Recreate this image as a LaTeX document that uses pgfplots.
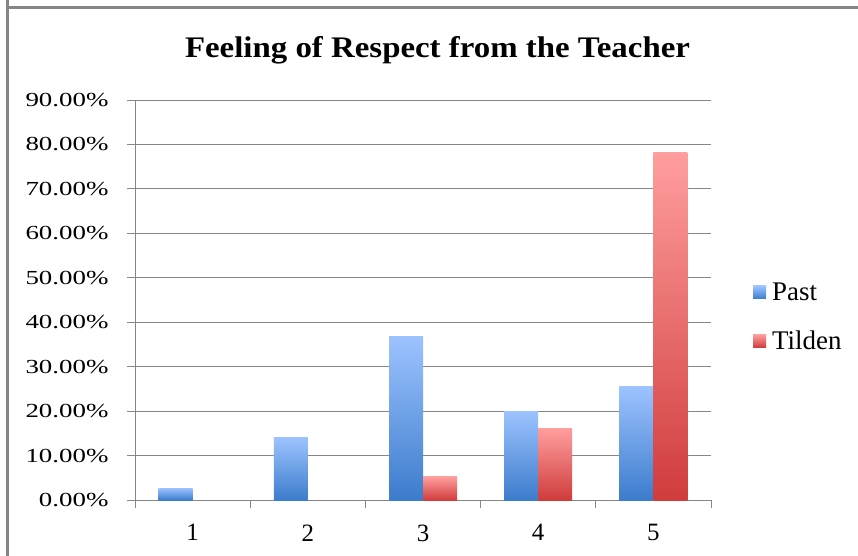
\documentclass[border=0pt]{standalone}
\usepackage{pgfplots}
\pgfplotsset{compat=1.18}
\usepackage{fontspec}
\setmainfont{Liberation Serif}
\definecolor{gridgray}{RGB}{134,134,134}
\definecolor{pasttop}{RGB}{157,195,255}
\definecolor{pastbot}{RGB}{60,124,204}
\definecolor{tildtop}{RGB}{255,158,158}
\definecolor{tildbot}{RGB}{208,60,60}
\pgfplotsset{
  pastbar/.style={ybar, bar width=34bp, bar shift=-17bp, draw=none, top color=pasttop, bottom color=pastbot},
  tildbar/.style={ybar, bar width=34bp, bar shift=17bp, draw=none, top color=tildtop, bottom color=tildbot},
}
\begin{document}
\begin{tikzpicture}
\path[use as bounding box] (-135bp,-56bp) rectangle (723bp,500bp);
\draw[gridgray, line width=3bp] (-127bp,500bp) -- (-127bp,-56bp);
\draw[gridgray, line width=3bp] (-128.5bp,492bp) -- (723bp,492bp);
\begin{axis}[
  scale only axis, width=576bp, height=400bp,
  xmin=0.5, xmax=5.5, ymin=0, ymax=90,
  axis x line*=bottom, axis y line*=left,
  axis line style={draw=gridgray, line width=0.9bp},
  ytick={0,10,...,90},
  ymajorgrids, grid style={draw=gridgray, line width=0.9bp},
  xtick={1,...,5}, minor xtick={0.5,1.5,...,5.5},
  tick align=outside, major tick length=8bp, minor tick length=8bp,
  tick style={draw=gridgray, line width=0.9bp},
  major x tick style={draw=none},
  yticklabel={\scalebox{1.35}[1]{\pgfmathprintnumber[fixed,fixed zerofill,precision=2,assume math mode=true]{\tick}\%}},
  xticklabel={\pgfmathprintnumber[assume math mode=true]{\tick}},
  yticklabel style={font=\fontsize{20}{24}\selectfont, xshift=-15bp},
  xticklabel style={font=\fontsize{25}{28}\selectfont, yshift=-13bp},
  legend style={at={(1.0729,0.4575)}, anchor=west, draw=none, fill=none,
    font=\fontsize{27}{30}\selectfont, row sep=25bp, inner sep=0pt},
  legend cell align=left,
  legend image code/.code={\draw[#1, draw=none] (0bp,-6.5bp) rectangle (13bp,6.5bp); \path (17bp,0bp);},
]
\addlegendimage{pastbar}\addlegendentry{Past}
\addlegendimage{tildbar}\addlegendentry{Tilden}
\addplot[pastbar, forget plot] coordinates {(1,2.7)};
\addplot[pastbar, forget plot] coordinates {(2,14.1)};
\addplot[pastbar, forget plot] coordinates {(3,36.9)};
\addplot[pastbar, forget plot] coordinates {(4,20.0)};
\addplot[pastbar, forget plot] coordinates {(5,25.5)};
\addplot[tildbar, forget plot] coordinates {(3,5.2)};
\addplot[tildbar, forget plot] coordinates {(4,16.1)};
\addplot[tildbar, forget plot] coordinates {(5,78.3)};
\end{axis}
\node[anchor=base, font=\fontsize{30}{34}\selectfont\bfseries] at (302.5bp,442bp) {\scalebox{1.1}[1]{Feeling of Respect from the Teacher}};
\end{tikzpicture}
\end{document}
